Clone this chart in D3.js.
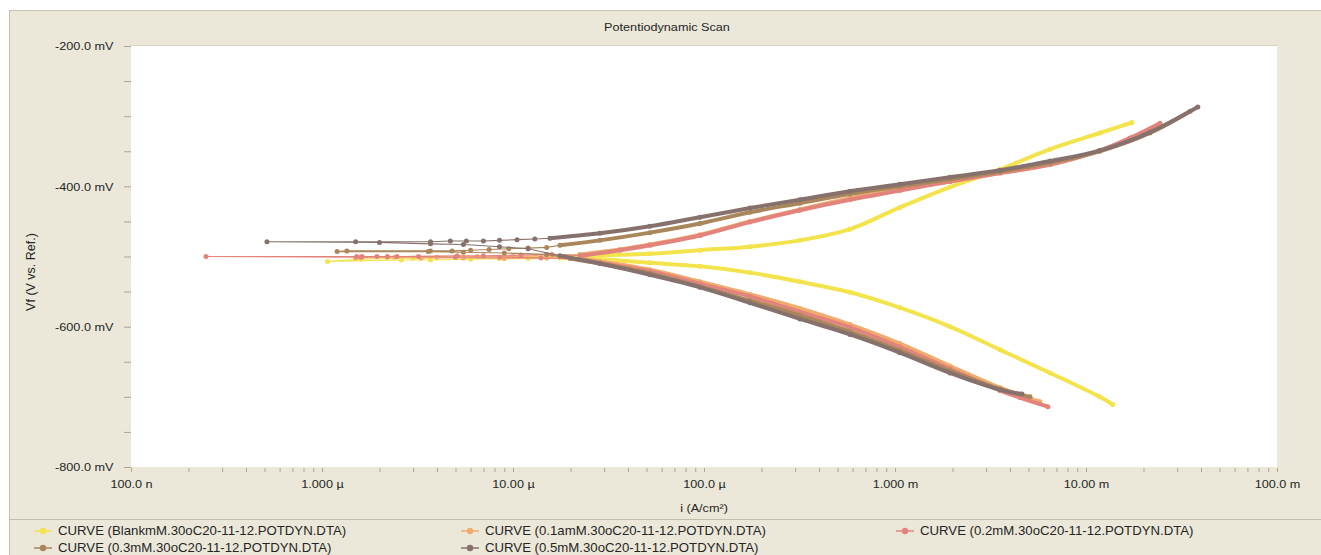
<!DOCTYPE html>
<html>
<head>
<meta charset="utf-8">
<script src="https://cdn.jsdelivr.net/npm/d3@7"></script>
<style>
  html, body { margin: 0; padding: 0; background: #ffffff; }
  svg { display: block; font-family: "Liberation Sans", Arial, sans-serif; }
</style>
</head>
<body>
<svg id="chart" width="1321" height="555"></svg>
<script>
// Potentiodynamic polarisation scans: current density (A/cm²) vs potential (mV vs. Ref.)
// Each curve: cathodic branch (start of scan -> near Ecorr), sparse points around Ecorr,
// anodic branch (near Ecorr -> end of scan).

const seriesNames = [
  "CURVE (BlankmM.30oC20-11-12.POTDYN.DTA)",
  "CURVE (0.1amM.30oC20-11-12.POTDYN.DTA)",
  "CURVE (0.2mM.30oC20-11-12.POTDYN.DTA)",
  "CURVE (0.3mM.30oC20-11-12.POTDYN.DTA)",
  "CURVE (0.5mM.30oC20-11-12.POTDYN.DTA)"
];
const seriesColors = ["#f3e34c", "#f1ab6c", "#e3847c", "#a9875a", "#87716c"];

const xTickValues = [1e-7, 1e-6, 1e-5, 1e-4, 1e-3, 1e-2, 1e-1];
const xTickLabels = ["100.0 n", "1.000 µ", "10.00 µ", "100.0 µ", "1.000 m", "10.00 m", "100.0 m"];
const yTickValues = [-800, -600, -400, -200];
const yTickLabels = ["-800.0 mV", "-600.0 mV", "-400.0 mV", "-200.0 mV"];

// Blank
const blankCath = [[1.38e-2,-711],[1.18e-2,-700],[6.49e-3,-666],[3.55e-3,-633],[1.94e-3,-600],[1.06e-3,-573],
  [5.81e-4,-551],[3.18e-4,-536],[1.74e-4,-523],[9.53e-5,-514],[5.21e-5,-509],[2.85e-5,-504],[1.76e-5,-502]];
const blankNear = [[1.2e-5,-503],[8.5e-6,-503],[6.0e-6,-504],[3.7e-6,-505],[2.6e-6,-505],[1.07e-6,-507],
  [1.6e-6,-504],[3.0e-6,-502],[5.5e-6,-501],[9.0e-6,-500],[1.3e-5,-500],[1.9e-5,-500]];
const blankAnod = [[2.24e-5,-499],[5.21e-5,-496],[9.53e-5,-491],[1.74e-4,-486],[3.18e-4,-477],[5.81e-4,-461],
  [1.06e-3,-430],[1.94e-3,-401],[3.55e-3,-376],[6.49e-3,-347],[1.18e-2,-324],[1.74e-2,-309]];

// 0.1amM
const c01Cath = [[5.74e-3,-707],[3.55e-3,-687],[1.94e-3,-656],[1.06e-3,-624],[5.81e-4,-597],[3.18e-4,-574],
  [1.74e-4,-554],[9.53e-5,-536],[5.21e-5,-519],[2.85e-5,-507],[2.24e-5,-503]];
const c01Near = [[1.5e-5,-502],[9.0e-6,-503],[5.5e-6,-502],[3.3e-6,-502],[2.2e-6,-501],[1.5e-6,-502],
  [2.4e-6,-501],[4.0e-6,-501],[6.5e-6,-500],[1.0e-5,-500],[1.5e-5,-499]];
const c01Anod = [[2.24e-5,-497],[3.63e-5,-490],[5.21e-5,-483],[9.53e-5,-469],[1.74e-4,-450],[3.18e-4,-433],
  [5.81e-4,-417],[1.06e-3,-404],[1.94e-3,-393],[3.55e-3,-381],[6.49e-3,-369],[1.18e-2,-349],[1.70e-2,-333],[2.36e-2,-313]];

// 0.2mM
const c02Cath = [[6.32e-3,-714],[4.51e-3,-701],[3.55e-3,-691],[1.94e-3,-660],[1.06e-3,-629],[5.81e-4,-601],
  [3.18e-4,-579],[1.74e-4,-557],[9.53e-5,-539],[5.21e-5,-521],[2.85e-5,-509],[2.24e-5,-504]];
const c02Near = [[1.4e-5,-502],[8.5e-6,-501],[5.0e-6,-501],[3.2e-6,-500],[2.2e-6,-500],[1.6e-6,-501],
  [2.47e-7,-500],[1.52e-6,-500],[1.62e-6,-500],[1.94e-6,-500],[2.47e-6,-500],[5.1e-6,-499],[7.0e-6,-499],
  [1.1e-5,-498],[1.6e-5,-497]];
const c02Anod = [[2.24e-5,-499],[3.63e-5,-491],[5.21e-5,-484],[9.53e-5,-470],[1.74e-4,-451],[3.18e-4,-434],
  [5.81e-4,-419],[1.06e-3,-406],[1.94e-3,-393],[3.55e-3,-381],[6.49e-3,-369],[1.18e-2,-349],[1.70e-2,-331],[2.44e-2,-310]];

// 0.3mM
const c03Cath = [[5.09e-3,-700],[3.55e-3,-689],[1.94e-3,-663],[1.06e-3,-634],[5.81e-4,-607],[3.18e-4,-584],
  [1.74e-4,-563],[9.53e-5,-543],[5.21e-5,-524],[2.85e-5,-510],[1.99e-5,-503]];
const c03Near = [[1.5e-5,-497],[9.0e-6,-495],[5.5e-6,-494],[3.6e-6,-493],[1.2e-6,-493],[1.35e-6,-492],
  [3.7e-6,-492],[4.8e-6,-492],[6.0e-6,-491],[7.5e-6,-490],[9.5e-6,-489],[1.2e-5,-488],[1.5e-5,-487]];
const c03Anod = [[1.76e-5,-484],[2.85e-5,-477],[5.21e-5,-466],[9.53e-5,-453],[1.74e-4,-437],[3.18e-4,-424],
  [5.81e-4,-411],[1.06e-3,-400],[1.94e-3,-390],[3.55e-3,-379],[6.49e-3,-366],[1.18e-2,-350],[2.16e-2,-324],[3.51e-2,-293]];

// 0.5mM
const c05Cath = [[4.62e-3,-696],[3.55e-3,-690],[1.94e-3,-666],[1.06e-3,-637],[5.81e-4,-611],[3.18e-4,-589],
  [1.74e-4,-566],[9.53e-5,-544],[5.21e-5,-526],[2.85e-5,-510],[1.76e-5,-499]];
const c05Near = [[1.2e-5,-489],[8.5e-6,-486],[5.5e-6,-483],[3.7e-6,-482],[2.0e-6,-480],[5.15e-7,-479],
  [1.5e-6,-479],[3.7e-6,-479],[4.7e-6,-478],[5.7e-6,-478],[7.0e-6,-478],[8.5e-6,-477],[1.05e-5,-476],[1.3e-5,-475]];
const c05Anod = [[1.56e-5,-474],[2.85e-5,-467],[5.21e-5,-457],[9.53e-5,-444],[1.74e-4,-431],[3.18e-4,-419],
  [5.81e-4,-407],[1.06e-3,-397],[1.94e-3,-387],[3.55e-3,-377],[6.49e-3,-364],[1.18e-2,-349],[2.16e-2,-323],[3.85e-2,-287]];

const curves = [
  { cath: blankCath, near: blankNear, anod: blankAnod },
  { cath: c01Cath, near: c01Near, anod: c01Anod },
  { cath: c02Cath, near: c02Near, anod: c02Anod },
  { cath: c03Cath, near: c03Near, anod: c03Anod },
  { cath: c05Cath, near: c05Near, anod: c05Anod }
].map((c, k) => ({ ...c, name: seriesNames[k], color: seriesColors[k] }));

// ---- layout ----
const svg = d3.select("#chart");
const W = 1321, H = 555;
const plot = { left: 131, right: 1277, top: 46, bottom: 467 };
const TEXT = "#262626";
const SX = 1.1;   // the screen fonts of this plot render slightly wide

const x = d3.scaleLog().domain([1e-7, 1e-1]).range([plot.left, plot.right]);
const y = d3.scaleLinear().domain([-800, -200]).range([plot.bottom, plot.top]);

function label(parent, tx, ty, str, size, anchor) {
  return parent.append("text")
    .attr("transform", `translate(${tx},${ty}) scale(${SX},1)`)
    .attr("text-anchor", anchor || "start")
    .attr("font-size", size).attr("fill", TEXT).text(str);
}

// panel
svg.append("rect").attr("x", 0).attr("y", 0).attr("width", W).attr("height", H).attr("fill", "#ffffff");
svg.append("rect").attr("x", 9.5).attr("y", 10.5).attr("width", W).attr("height", H)
  .attr("fill", "#ebe8d9").attr("stroke", "#c6c2ae");
svg.append("line").attr("x1", 9.5).attr("x2", W).attr("y1", 519.5).attr("y2", 519.5).attr("stroke", "#c2bea9");

// title
label(svg, 667, 31, "Potentiodynamic Scan", 11.5, "middle");

// plot area
svg.append("rect").attr("x", plot.left).attr("y", plot.top)
  .attr("width", plot.right - plot.left).attr("height", plot.bottom - plot.top)
  .attr("fill", "#ffffff");
svg.append("line").attr("x1", plot.left).attr("x2", plot.right).attr("y1", plot.top - 0.5).attr("y2", plot.top - 0.5)
  .attr("stroke", "#d6d3c4");

// y axis: minor ticks every 50 mV, labels every 200 mV
const yAxis = d3.axisLeft(y)
  .tickValues(d3.range(-800, -199, 50))
  .tickSize(7)
  .tickFormat(v => { const k = yTickValues.indexOf(v); return k >= 0 ? yTickLabels[k] : ""; });
const gy = svg.append("g").attr("transform", `translate(${plot.left},0)`).call(yAxis);
gy.select(".domain").remove();
gy.selectAll(".tick line").attr("stroke", "#a8a595");
gy.selectAll(".tick text").attr("font-size", 11.5).attr("fill", TEXT).attr("x", -16)
  .attr("transform", `scale(${SX},1)`)
  .attr("font-family", "'Liberation Sans', Arial, sans-serif");

// x axis: decade labels with 2..9 minor ticks
const xMinor = [];
xTickValues.slice(0, -1).forEach(d => { for (let m = 1; m <= 9; m++) xMinor.push(d * m); });
xMinor.push(1e-1);
const xAxis = d3.axisBottom(x)
  .tickValues(xMinor)
  .tickSize(4)
  .tickFormat(v => { const k = xTickValues.findIndex(t => Math.abs(t - v) / t < 1e-6); return k >= 0 ? xTickLabels[k] : ""; });
const gx = svg.append("g").attr("transform", `translate(0,${plot.bottom + 1})`).call(xAxis);
gx.select(".domain").remove();
gx.selectAll(".tick line").attr("stroke", "#aaa796");
gx.selectAll(".tick text").attr("font-size", 11.5).attr("fill", TEXT).attr("y", 12)
  .attr("transform", `scale(${SX},1)`)
  .attr("font-family", "'Liberation Sans', Arial, sans-serif");

// axis titles
svg.append("text").attr("transform", "translate(35,272) rotate(-90)").attr("text-anchor", "middle")
  .attr("font-size", 12.5).attr("fill", TEXT).text("Vf (V vs. Ref.)");
label(svg, 704, 512, "i (A/cm²)", 11.5, "middle");

// ---- curves ----
svg.append("clipPath").attr("id", "plotclip").append("rect")
  .attr("x", plot.left).attr("y", plot.top).attr("width", plot.right - plot.left).attr("height", plot.bottom - plot.top);

const thin = d3.line().x(d => x(d[0])).y(d => y(d[1]));
const thick = d3.line().x(d => x(d[0])).y(d => y(d[1])).curve(d3.curveCatmullRom.alpha(0.5));

const gc = svg.append("g").attr("clip-path", "url(#plotclip)");
curves.forEach(c => {
  const g = gc.append("g");
  const all = c.cath.concat(c.near, c.anod);
  g.append("path").attr("d", thin(all)).attr("fill", "none").attr("stroke", c.color).attr("stroke-width", 1.1);
  [c.cath, c.anod].forEach(branch => {
    g.append("path").attr("d", thick(branch)).attr("fill", "none").attr("stroke", c.color)
      .attr("stroke-width", 4).attr("stroke-linecap", "round").attr("stroke-linejoin", "round");
  });
  g.selectAll("circle").data(all).join("circle")
    .attr("cx", d => x(d[0])).attr("cy", d => y(d[1])).attr("r", 2.5).attr("fill", c.color);
});

// ---- legend ----
const legendPos = [[43, 531], [470, 531], [905, 531], [43, 548], [470, 548]];
curves.forEach((c, k) => {
  const [lx, ly] = legendPos[k];
  const g = svg.append("g").attr("transform", `translate(${lx},${ly})`);
  g.append("line").attr("x1", -9).attr("x2", 9).attr("stroke", c.color).attr("stroke-width", 1.5);
  g.append("circle").attr("r", 3.2).attr("fill", c.color);
  label(g, 15, 4, c.name, 12, "start");
});
</script>
</body>
</html>
